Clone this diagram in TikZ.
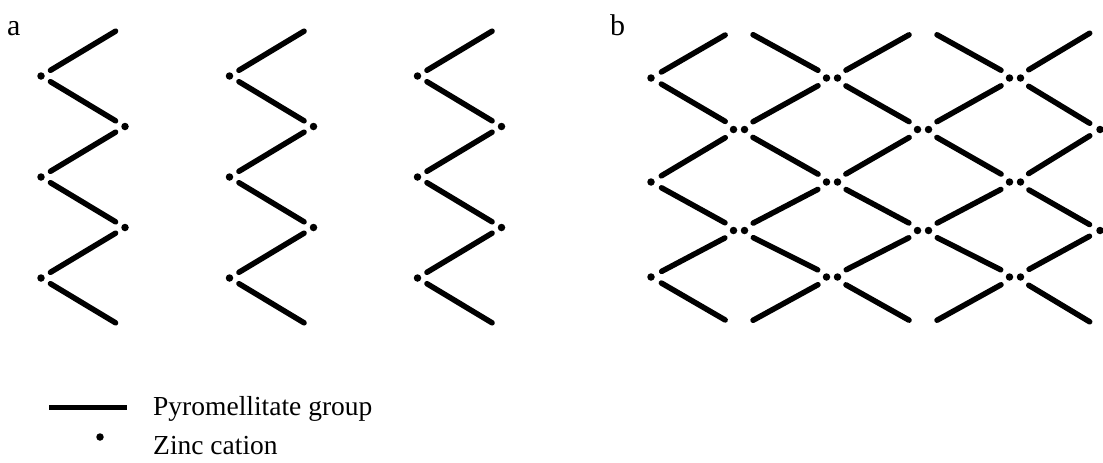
\documentclass[tikz,border=0pt]{standalone}
\usepackage{fontspec}
\setmainfont{Liberation Serif}
\begin{document}
\begin{tikzpicture}[x=1pt,y=-1pt,
  bond/.style={line width=5.5pt, line cap=round},
  zn/.style={circle, fill=black, draw=none, inner sep=0pt, minimum size=7.5pt},
  lbl/.style={font=\fontsize{30}{30}\selectfont, anchor=base west, inner sep=0pt},
  leg/.style={font=\fontsize{27.5}{27.5}\selectfont, anchor=base west, inner sep=0pt}]
\useasboundingbox (0,0) rectangle (1103,463);

% ---------- panel a ----------
\node[lbl] (la) at (7,35) {a};
\foreach \k/\lx in {1/41,2/229.5,3/417.5}{
  \pgfmathsetmacro\rx{\lx+84}
  \coordinate (a\k t)  at (\rx,25.5);
  \coordinate (a\k l1) at (\lx,76);
  \coordinate (a\k r1) at (\rx,126.5);
  \coordinate (a\k l2) at (\lx,177);
  \coordinate (a\k r2) at (\rx,227.5);
  \coordinate (a\k l3) at (\lx,278);
  \coordinate (a\k b)  at (\rx,328.5);
  \foreach \p/\q in {t/l1,l1/r1,r1/l2,l2/r2,r2/l3,l3/b}
    \draw[bond, shorten <=11pt, shorten >=11pt] (a\k\p) -- (a\k\q);
  \foreach \v in {l1,r1,l2,r2,l3}
    \node[zn] (za\k\v) at (a\k\v) {};
}

% ---------- panel b ----------
\node[lbl] (lb) at (610,35) {b};
\def\bcols{{651,739,832,923,1015,1100}}
\def\brows{{27,78,129.5,182,230.5,277,328}}
\foreach \i in {0,...,5}{
  \foreach \j in {0,...,6}{
    \pgfmathtruncatemacro\pty{mod(\i+\j,2)}
    \ifnum\pty=1
      \pgfmathsetmacro\xx{\bcols[\i]}
      \pgfmathsetmacro\yy{\brows[\j]}
      \coordinate (b\i-\j) at (\xx,\yy);
    \fi
  }
}
\foreach \i in {0,...,4}{
  \foreach \j in {0,...,6}{
    \pgfmathtruncatemacro\pty{mod(\i+\j,2)}
    \pgfmathtruncatemacro\ni{\i+1}
    \pgfmathtruncatemacro\jup{\j-1}
    \pgfmathtruncatemacro\jdn{\j+1}
    \pgfmathsetmacro\sha{\i==0 ? 12 : 16}
    \pgfmathsetmacro\shb{\ni==5 ? 12 : 16}
    \ifnum\pty=1
      \ifnum\j<6
        \draw[bond, shorten <=\sha pt, shorten >=\shb pt] (b\i-\j) -- (b\ni-\jdn);
      \fi
      \ifnum\j>0
        \draw[bond, shorten <=\sha pt, shorten >=\shb pt] (b\i-\j) -- (b\ni-\jup);
      \fi
    \fi
  }
}
\foreach \i in {0,...,5}{
  \foreach \j in {1,...,5}{
    \pgfmathtruncatemacro\pty{mod(\i+\j,2)}
    \ifnum\pty=1
      \ifnum\i=0
        \node[zn] (zb\i-\j) at (b\i-\j) {};
      \else\ifnum\i=5
        \node[zn] (zb\i-\j) at (b\i-\j) {};
      \else
        \node[zn] (zbl\i-\j) at ([xshift=-5.5pt]b\i-\j) {};
        \node[zn] (zbr\i-\j) at ([xshift=5.5pt]b\i-\j) {};
      \fi\fi
    \fi
  }
}

% ---------- legend ----------
\coordinate (g1) at (49,407);
\coordinate (g2) at (127,407);
\draw[line width=5pt] (g1) -- (g2);
\node[leg] (t1) at (153,415) {Pyromellitate group};
\node[zn] (gz) at (100,437) {};
\node[leg] (t2) at (153,454) {Zinc cation};
\end{tikzpicture}
\end{document}
